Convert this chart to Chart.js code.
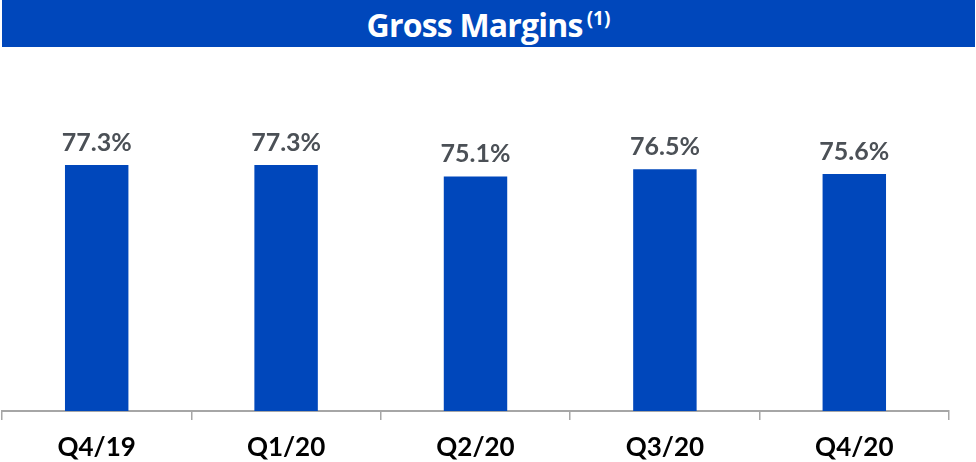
<!DOCTYPE html>
<html>
<head>
<meta charset="utf-8">
<script src="https://cdn.jsdelivr.net/npm/chart.js@4/dist/chart.umd.min.js"></script>
<style>
  html, body { margin: 0; padding: 0; background: #ffffff; }
  #wrap { position: relative; width: 976px; height: 462px; }
  #banner {
    position: absolute; left: 2px; top: 0; width: 973px; height: 47px;
    background: #0047bb; color: #ffffff; text-align: center;
    font-family: "Open Sans", sans-serif; font-weight: bold; font-size: 32px;
    line-height: 50px; letter-spacing: -0.8px; overflow: hidden;
  }
  #banner sup { font-size: 19px; vertical-align: 0; position: relative; top: -12px; margin-left: 4px; letter-spacing: 0; }
  #chartBox { position: absolute; left: 0; top: 0; width: 976px; height: 462px; }
</style>
</head>
<body>
<div id="wrap">
  <div id="chartBox"><canvas id="marginChart"></canvas></div>
  <div id="banner">Gross Margins<sup>(1)</sup></div>
</div>
<script>
// Chart data
const quarters = ['Q4/19', 'Q1/20', 'Q2/20', 'Q3/20', 'Q4/20'];
const grossMargin = [77.3, 77.3, 75.1, 76.5, 75.6];

// Draw value labels above each bar
const valueLabels = {
    id: 'valueLabels',
    afterDatasetsDraw(chart) {
        const ctx = chart.ctx;
        const meta = chart.getDatasetMeta(0);
        ctx.save();
        ctx.fillStyle = '#4b5056';
        ctx.font = 'bold 25px Lato, sans-serif';
        ctx.textAlign = 'center';
        ctx.textBaseline = 'alphabetic';
        meta.data.forEach(function(bar, i) {
            ctx.fillText(grossMargin[i].toFixed(1) + '%', bar.x, bar.y - 14);
        });
        ctx.restore();
    }
};

new Chart(document.getElementById('marginChart'), {
    type: 'bar',
    data: {
        labels: quarters,
        datasets: [{
            data: grossMargin,
            backgroundColor: '#0047bb',
            borderWidth: 0,
            barPercentage: 0.335,
            categoryPercentage: 1.0
        }]
    },
    options: {
        responsive: true,
        maintainAspectRatio: false,
        animation: false,
        layout: {
            padding: { left: 2, right: 27, top: 60, bottom: 0 }
        },
        plugins: {
            legend: { display: false },
            tooltip: { enabled: false }
        },
        scales: {
            x: {
                offset: true,
                border: { display: true, color: '#a6a6a6', width: 2 },
                grid: {
                    offset: true,
                    drawOnChartArea: false,
                    drawTicks: true,
                    tickLength: 9,
                    color: '#a6a6a6',
                    lineWidth: 1.5
                },
                ticks: {
                    color: '#000000',
                    padding: 12,
                    font: { family: 'Lato, sans-serif', weight: 'bold', size: 26 }
                },
                afterFit: function(scale) { scale.height = 51; }
            },
            y: {
                display: false,
                min: 30,
                max: 97.5
            }
        }
    },
    plugins: [valueLabels]
});
</script>
</body>
</html>
